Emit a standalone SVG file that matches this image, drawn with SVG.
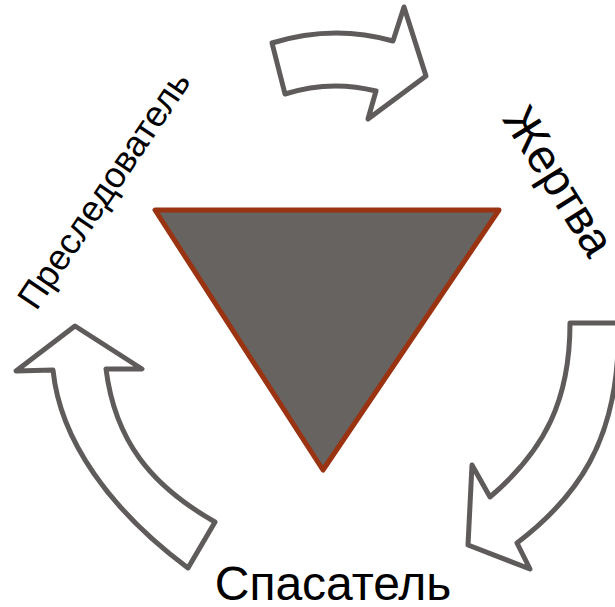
<svg xmlns="http://www.w3.org/2000/svg" width="615" height="607" viewBox="0 0 615 607">
<style>
.arrow{fill:#fff;stroke:#5f5b5a;stroke-width:5;stroke-linejoin:round}
.lbl{font-family:"Liberation Sans",Arial,sans-serif;fill:#000}
</style>
<rect width="615" height="607" fill="#fff"/>
<g id="connectors">
<path id="arrow-top" class="arrow" d="M272,43 Q333,24 393,41 L404,7 L426,76 L368,119 L376,91 Q330,79.5 285,94 Z"/>
<path id="arrow-right" class="arrow" d="M570,323 L660,323 L640,340 L618,350 C614,440 580,495 517,543 L530,569 L468,545 L472,465 L490,497 C545,450 570,400 570,323 Z"/>
<path id="arrow-left" class="arrow" d="M75,326 L142,369 L106,369 C115,440 150,485 215,522 L188,568 C110,510 60,440 53,370 L16,371 Z"/>
</g>
<g id="triangle">
<polygon points="155,210 499,210 323,470" fill="#676361" stroke="#993311" stroke-width="5" stroke-linejoin="round"/>
</g>
<g id="node-persecutor">
<text class="lbl" font-size="36" text-anchor="middle" transform="translate(104,190) rotate(-56)" y="12">Преследователь</text>
</g>
<g id="node-victim">
<text class="lbl" font-size="47" text-anchor="middle" transform="translate(559,181) rotate(58)" y="16">Жертва</text>
</g>
<g id="node-rescuer">
<text class="lbl" font-size="48" text-anchor="middle" x="333" y="600">Спасатель</text>
</g>
</svg>
